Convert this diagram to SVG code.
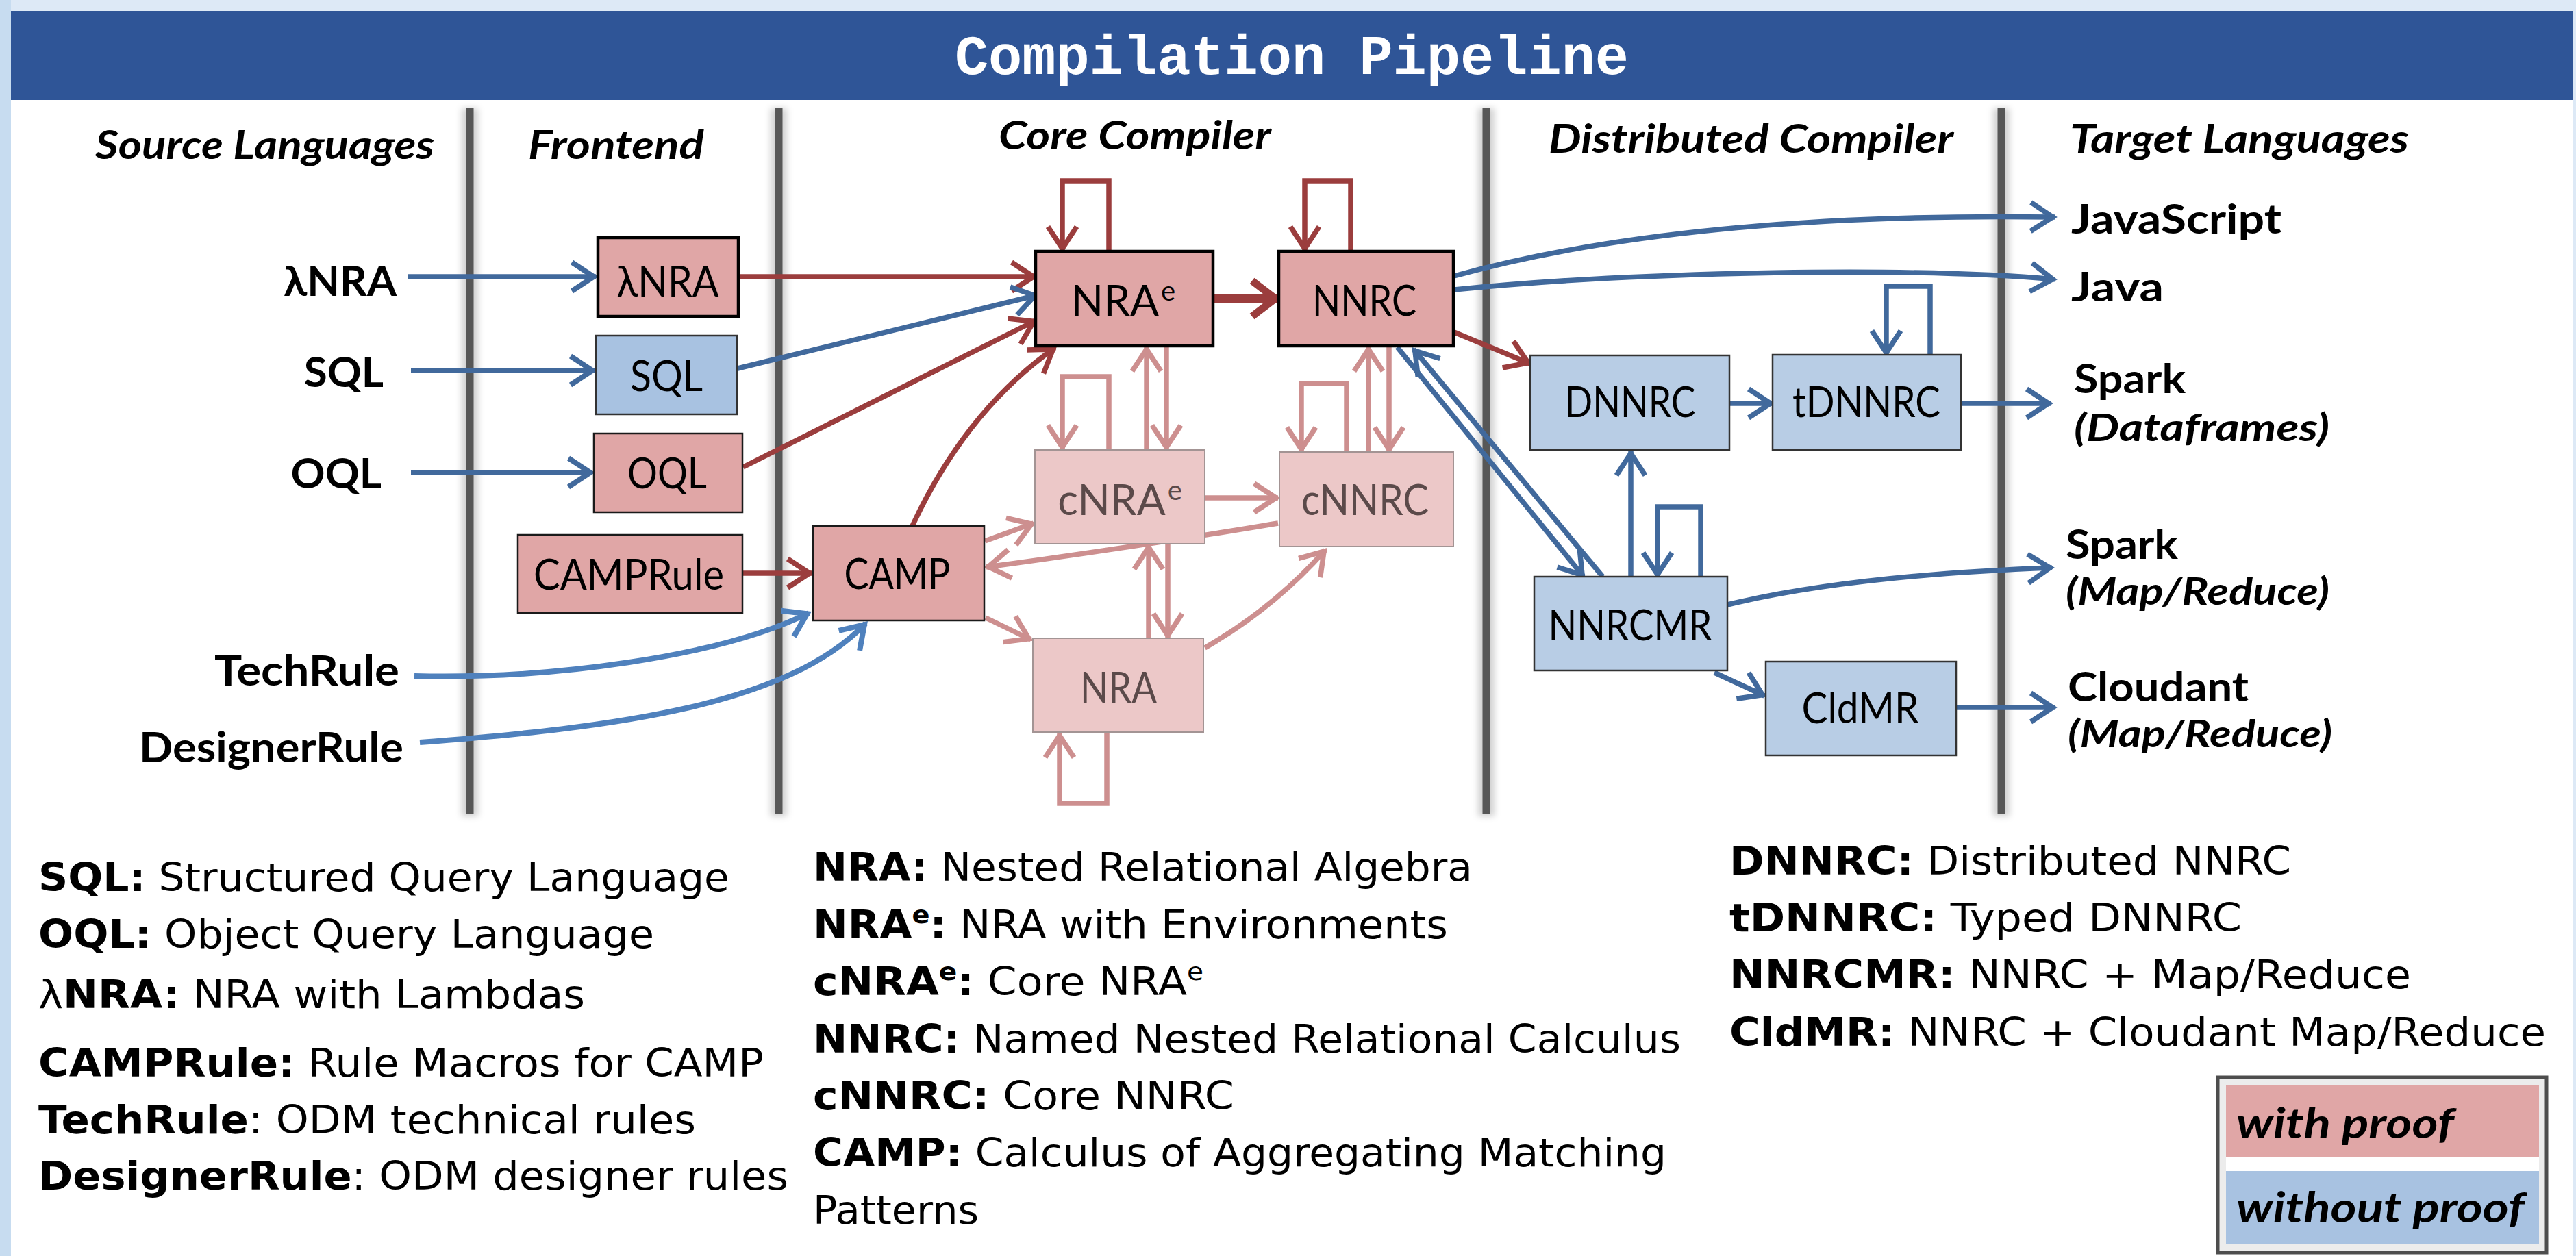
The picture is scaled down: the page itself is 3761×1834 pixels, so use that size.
<svg xmlns="http://www.w3.org/2000/svg" width="3761" height="1834" viewBox="0 0 3761 1834">
<defs>
<style>
.hdr{font-family:Lato,"Open Sans","Liberation Sans",sans-serif;font-weight:700;font-style:italic;font-size:58px;fill:#000}
.src{font-family:Lato,"Open Sans","Liberation Sans",sans-serif;font-weight:700;font-size:62px;fill:#000}
.nl{font-family:Lato,"Open Sans","Liberation Sans",sans-serif;font-size:62px;fill:#000;text-anchor:middle}
.fade{fill:#5b4a4a}
.tgt{font-family:Lato,"Open Sans","Liberation Sans",sans-serif;font-weight:700;font-size:60px;fill:#000}
.tgti{font-family:Lato,"Open Sans","Liberation Sans",sans-serif;font-weight:700;font-style:italic;font-size:56px;fill:#000}
.def{font-family:"DejaVu Sans","Liberation Sans",sans-serif;font-size:57px;fill:#000}
.b{font-weight:700}
.pk{fill:#e0a6a6;stroke:#000;stroke-width:4.5}
.p{fill:#e0a6a6;stroke:#1a1a1a;stroke-width:2.5}
.bl{fill:#b8cde5;stroke:#333;stroke-width:2.5}
.bl2{fill:#a8c2e1;stroke:#333;stroke-width:2.5}
.f{fill:#ecc8c8;stroke:#a39494;stroke-width:2}
.vl{stroke:#575757;stroke-width:11}
.vls{stroke:#000;stroke-opacity:0.18;stroke-width:24}
.cR{fill:none;stroke:#9b3d3d;stroke-width:7.5;marker-end:url(#aR)}
.cRt{fill:none;stroke:#9b3d3d;stroke-width:12;marker-end:url(#aRt)}
.cB{fill:none;stroke:#41699c;stroke-width:7.5;marker-end:url(#aB)}
.cL{fill:none;stroke:#4f81bd;stroke-width:8;marker-end:url(#aL)}
.cF{fill:none;stroke:#cd8f8f;stroke-width:7.5;marker-end:url(#aF)}
.lg{font-family:Lato,"Open Sans","Liberation Sans",sans-serif;font-weight:700;font-style:italic;font-size:62px;fill:#000}
</style>
<marker id="aR" viewBox="0 0 48 48" refX="40" refY="24" markerWidth="48" markerHeight="48" markerUnits="userSpaceOnUse" orient="auto" overflow="visible"><path d="M5,3 L37,24 L5,45" fill="none" stroke="#9b3d3d" stroke-width="7.5"/></marker>
<marker id="aRt" viewBox="0 0 54 60" refX="46" refY="30" markerWidth="54" markerHeight="60" markerUnits="userSpaceOnUse" orient="auto" overflow="visible"><path d="M8,4 L42,30 L8,56" fill="none" stroke="#9b3d3d" stroke-width="11"/></marker>
<marker id="aB" viewBox="0 0 48 48" refX="40" refY="24" markerWidth="48" markerHeight="48" markerUnits="userSpaceOnUse" orient="auto" overflow="visible"><path d="M5,3 L37,24 L5,45" fill="none" stroke="#41699c" stroke-width="7.5"/></marker>
<marker id="aL" viewBox="0 0 48 48" refX="40" refY="24" markerWidth="48" markerHeight="48" markerUnits="userSpaceOnUse" orient="auto" overflow="visible"><path d="M5,3 L37,24 L5,45" fill="none" stroke="#4f81bd" stroke-width="8"/></marker>
<marker id="aF" viewBox="0 0 48 48" refX="40" refY="24" markerWidth="48" markerHeight="48" markerUnits="userSpaceOnUse" orient="auto" overflow="visible"><path d="M5,3 L37,24 L5,45" fill="none" stroke="#cd8f8f" stroke-width="7.5"/></marker>
<filter id="blur" x="-1" y="-0.1" width="3" height="1.2"><feGaussianBlur stdDeviation="5"/></filter>
</defs>

<rect x="0" y="0" width="3761" height="1834" fill="#dde9f6"/>
<rect x="0" y="0" width="16" height="1834" fill="#c7dcf0"/>
<rect x="16" y="146" width="3741" height="1688" fill="#ffffff"/>
<rect x="16" y="16" width="3741" height="130" fill="#2f5597"/>
<text x="1886" y="108" text-anchor="middle" font-family="'Liberation Mono','DejaVu Sans Mono',monospace" font-weight="700" font-size="82" fill="#ffffff">Compilation Pipeline</text>

<g id="separators">
<g filter="url(#blur)">
<line class="vls" x1="686" y1="158" x2="686" y2="1192"/>
<line class="vls" x1="1137" y1="158" x2="1137" y2="1192"/>
<line class="vls" x1="2170" y1="158" x2="2170" y2="1192"/>
<line class="vls" x1="2922" y1="158" x2="2922" y2="1192"/>
</g>
<line class="vl" x1="686" y1="158" x2="686" y2="1188"/>
<line class="vl" x1="1137" y1="158" x2="1137" y2="1188"/>
<line class="vl" x1="2170" y1="158" x2="2170" y2="1188"/>
<line class="vl" x1="2922" y1="158" x2="2922" y2="1188"/>
</g>

<g id="headers">
<text class="hdr" x="139" y="232" textLength="495" lengthAdjust="spacingAndGlyphs">Source Languages</text>
<text class="hdr" x="771" y="232" textLength="257" lengthAdjust="spacingAndGlyphs">Frontend</text>
<text class="hdr" x="1458" y="218" textLength="398" lengthAdjust="spacingAndGlyphs">Core Compiler</text>
<text class="hdr" x="2261" y="223" textLength="591" lengthAdjust="spacingAndGlyphs">Distributed Compiler</text>
<text class="hdr" x="3022" y="223" textLength="495" lengthAdjust="spacingAndGlyphs">Target Languages</text>
</g>

<g id="connectors">
<path class="cB" d="M595,404 H870"/>
<path class="cB" d="M600,541 H868"/>
<path class="cB" d="M600,690 H865"/>
<path class="cL" d="M605,987 C800,992 1050,960 1181,895"/>
<path class="cL" d="M613,1084 C900,1062 1150,1030 1264,910"/>
<path class="cR" d="M1078,404 H1512"/>
<path class="cB" d="M1077,538 L1514,431"/>
<path class="cR" d="M1085,682 L1512,468"/>
<path class="cR" d="M1084,837 H1185"/>
<path class="cR" d="M1332,768 Q1410,600 1540,508"/>
<path class="cRt" d="M1771,436 H1866"/>
<path class="cR" d="M1619,367 V264 H1551 V366"/>
<path class="cR" d="M1972,367 V264 H1905 V366"/>
<path class="cF" d="M1619,657 V550 H1551 V656"/>
<path class="cF" d="M1674,657 V507"/>
<path class="cF" d="M1703,505 V656"/>
<path class="cF" d="M1966,661 V560 H1900 V659"/>
<path class="cF" d="M1998,660 V507"/>
<path class="cF" d="M2028,507 V659"/>
<path class="cF" d="M1759,727 H1866"/>
<path class="cF" d="M1438,790 L1509,764"/>
<path class="cF" d="M1866,764 Q1650,800 1440,828"/>
<path class="cF" d="M1439,902 L1505,934"/>
<path class="cF" d="M1759,946 Q1860,888 1935,803"/>
<path class="cF" d="M1677,932 V796"/>
<path class="cF" d="M1705,794 V931"/>
<path class="cF" d="M1616,1069 V1173 H1547 V1071"/>
<path class="cR" d="M2123,485 L2234,531"/>
<path class="cB" d="M2123,403 C2350,340 2650,312 3000,317"/>
<path class="cB" d="M2123,423 C2400,395 2800,390 3000,408"/>
<path class="cB" d="M2040,507 L2312,842"/>
<path class="cB" d="M2340,842 L2064,510"/>
<path class="cB" d="M2525,589 H2588"/>
<path class="cB" d="M2863,589 H2994"/>
<path class="cB" d="M2818,518 V418 H2754 V518"/>
<path class="cB" d="M2381,842 V659"/>
<path class="cB" d="M2483,842 V740 H2420 V842"/>
<path class="cB" d="M2522,883 Q2700,840 2996,829"/>
<path class="cB" d="M2503,982 L2576,1016"/>
<path class="cB" d="M2856,1033 H3000"/>
</g>

<g id="sources">
<g id="src-lnra"><text class="src" x="579" y="432" text-anchor="end">λNRA</text></g>
<g id="src-sql"><text class="src" x="560" y="565" text-anchor="end">SQL</text></g>
<g id="src-oql"><text class="src" x="557" y="713" text-anchor="end">OQL</text></g>
<g id="src-techrule"><text class="src" x="583" y="1001" text-anchor="end" textLength="270" lengthAdjust="spacingAndGlyphs">TechRule</text></g>
<g id="src-designerrule"><text class="src" x="589" y="1113" text-anchor="end" textLength="386" lengthAdjust="spacingAndGlyphs">DesignerRule</text></g>
</g>

<g id="nodes">
<g id="node-lnra"><rect class="pk" x="873" y="347" width="205" height="115"/><text class="nl" x="975" y="433" textLength="149" lengthAdjust="spacingAndGlyphs">λNRA</text></g>
<g id="node-sql"><rect class="bl2" x="870" y="490" width="206" height="115"/><text class="nl" x="973" y="571" textLength="106" lengthAdjust="spacingAndGlyphs">SQL</text></g>
<g id="node-oql"><rect class="p" x="867" y="633" width="217" height="115"/><text class="nl" x="974" y="713" textLength="116" lengthAdjust="spacingAndGlyphs">OQL</text></g>
<g id="node-camprule"><rect class="p" x="756" y="781" width="328" height="114"/><text class="nl" x="918" y="861" textLength="278" lengthAdjust="spacingAndGlyphs">CAMPRule</text></g>
<g id="node-camp"><rect class="p" x="1187" y="768" width="250" height="138"/><text class="nl" x="1310" y="860" textLength="155" lengthAdjust="spacingAndGlyphs">CAMP</text></g>
<g id="node-nrae"><rect class="pk" x="1512" y="367" width="259" height="138"/><text class="nl" x="1640" y="461" font-size="60">NRA<tspan font-size="40" dx="3" dy="-22">e</tspan></text></g>
<g id="node-nnrc"><rect class="pk" x="1867" y="367" width="255" height="138"/><text class="nl" x="1992" y="461" textLength="152" lengthAdjust="spacingAndGlyphs">NNRC</text></g>
<g id="node-cnrae"><rect class="f" x="1511" y="657" width="248" height="137"/><text class="nl fade" x="1635" y="752" font-size="60">cNRA<tspan font-size="40" dx="3" dy="-22">e</tspan></text></g>
<g id="node-cnnrc"><rect class="f" x="1868" y="660" width="254" height="138"/><text class="nl fade" x="1993" y="752" textLength="186" lengthAdjust="spacingAndGlyphs">cNNRC</text></g>
<g id="node-nra"><rect class="f" x="1508" y="932" width="249" height="137"/><text class="nl fade" x="1633" y="1026" textLength="112" lengthAdjust="spacingAndGlyphs">NRA</text></g>
<g id="node-dnnrc"><rect class="bl" x="2234" y="519" width="291" height="138"/><text class="nl" x="2380" y="609" textLength="191" lengthAdjust="spacingAndGlyphs">DNNRC</text></g>
<g id="node-tdnnrc"><rect class="bl" x="2588" y="518" width="275" height="139"/><text class="nl" x="2725" y="609" textLength="216" lengthAdjust="spacingAndGlyphs">tDNNRC</text></g>
<g id="node-nnrcmr"><rect class="bl" x="2240" y="842" width="282" height="137"/><text class="nl" x="2380" y="935" textLength="239" lengthAdjust="spacingAndGlyphs">NNRCMR</text></g>
<g id="node-cldmr"><rect class="bl" x="2578" y="966" width="278" height="137"/><text class="nl" x="2716" y="1056" textLength="171" lengthAdjust="spacingAndGlyphs">CldMR</text></g>
</g>

<g id="targets">
<g id="tgt-javascript"><text class="tgt" x="3024" y="341" textLength="307" lengthAdjust="spacingAndGlyphs">JavaScript</text></g>
<g id="tgt-java"><text class="tgt" x="3024" y="440" textLength="135" lengthAdjust="spacingAndGlyphs">Java</text></g>
<g id="tgt-spark-df"><text class="tgt" x="3028" y="574" textLength="163" lengthAdjust="spacingAndGlyphs">Spark</text><text class="tgti" x="3028" y="644" textLength="373" lengthAdjust="spacingAndGlyphs">(Dataframes)</text></g>
<g id="tgt-spark-mr"><text class="tgt" x="3016" y="816" textLength="164" lengthAdjust="spacingAndGlyphs">Spark</text><text class="tgti" x="3016" y="883" textLength="385" lengthAdjust="spacingAndGlyphs">(Map/Reduce)</text></g>
<g id="tgt-cloudant"><text class="tgt" x="3019" y="1024" textLength="264" lengthAdjust="spacingAndGlyphs">Cloudant</text><text class="tgti" x="3019" y="1091" textLength="386" lengthAdjust="spacingAndGlyphs">(Map/Reduce)</text></g>
</g>

<g id="definitions">
<text class="def" x="56" y="1301" textLength="1009" lengthAdjust="spacingAndGlyphs"><tspan class="b">SQL:</tspan> Structured Query Language</text>
<text class="def" x="56" y="1384" textLength="899" lengthAdjust="spacingAndGlyphs"><tspan class="b">OQL:</tspan> Object Query Language</text>
<text class="def" x="56" y="1472" textLength="798" lengthAdjust="spacingAndGlyphs">λ<tspan class="b">NRA:</tspan> NRA with Lambdas</text>
<text class="def" x="56" y="1572" textLength="1059" lengthAdjust="spacingAndGlyphs"><tspan class="b">CAMPRule:</tspan> Rule Macros for CAMP</text>
<text class="def" x="56" y="1655" textLength="960" lengthAdjust="spacingAndGlyphs"><tspan class="b">TechRule</tspan>: ODM technical rules</text>
<text class="def" x="56" y="1737" textLength="1095" lengthAdjust="spacingAndGlyphs"><tspan class="b">DesignerRule</tspan>: ODM designer rules</text>

<text class="def" x="1187" y="1286" textLength="963" lengthAdjust="spacingAndGlyphs"><tspan class="b">NRA:</tspan> Nested Relational Algebra</text>
<text class="def" x="1187" y="1370" textLength="927" lengthAdjust="spacingAndGlyphs"><tspan class="b">NRA</tspan><tspan class="b" font-size="36" dy="-22">e</tspan><tspan class="b" dy="22">:</tspan> NRA with Environments</text>
<text class="def" x="1187" y="1453" textLength="570" lengthAdjust="spacingAndGlyphs"><tspan class="b">cNRA</tspan><tspan class="b" font-size="36" dy="-22">e</tspan><tspan class="b" dy="22">:</tspan> Core NRA<tspan font-size="36" dy="-22">e</tspan></text>
<text class="def" x="1187" y="1537" textLength="1267" lengthAdjust="spacingAndGlyphs"><tspan class="b">NNRC:</tspan> Named Nested Relational Calculus</text>
<text class="def" x="1187" y="1620" textLength="615" lengthAdjust="spacingAndGlyphs"><tspan class="b">cNNRC:</tspan> Core NNRC</text>
<text class="def" x="1187" y="1703" textLength="1246" lengthAdjust="spacingAndGlyphs"><tspan class="b">CAMP:</tspan> Calculus of Aggregating Matching</text>
<text class="def" x="1187" y="1787" textLength="242" lengthAdjust="spacingAndGlyphs">Patterns</text>

<text class="def" x="2525" y="1277" textLength="820" lengthAdjust="spacingAndGlyphs"><tspan class="b">DNNRC:</tspan> Distributed NNRC</text>
<text class="def" x="2525" y="1360" textLength="748" lengthAdjust="spacingAndGlyphs"><tspan class="b">tDNNRC:</tspan> Typed DNNRC</text>
<text class="def" x="2525" y="1443" textLength="995" lengthAdjust="spacingAndGlyphs"><tspan class="b">NNRCMR:</tspan> NNRC + Map/Reduce</text>
<text class="def" x="2525" y="1527" textLength="1192" lengthAdjust="spacingAndGlyphs"><tspan class="b">CldMR:</tspan> NNRC + Cloudant Map/Reduce</text>
</g>

<g id="legend">
<rect x="3238" y="1573" width="480" height="256" fill="#ececec" stroke="#4d4d4d" stroke-width="5"/>
<rect x="3250" y="1584" width="457" height="106" fill="#e0a6a6"/>
<rect x="3250" y="1690" width="457" height="20" fill="#ffffff"/>
<rect x="3250" y="1710" width="457" height="106" fill="#a8c2e1"/>
<text class="lg" x="3265" y="1662" textLength="318" lengthAdjust="spacingAndGlyphs">with proof</text>
<text class="lg" x="3265" y="1785" textLength="421" lengthAdjust="spacingAndGlyphs">without proof</text>
</g>
</svg>
